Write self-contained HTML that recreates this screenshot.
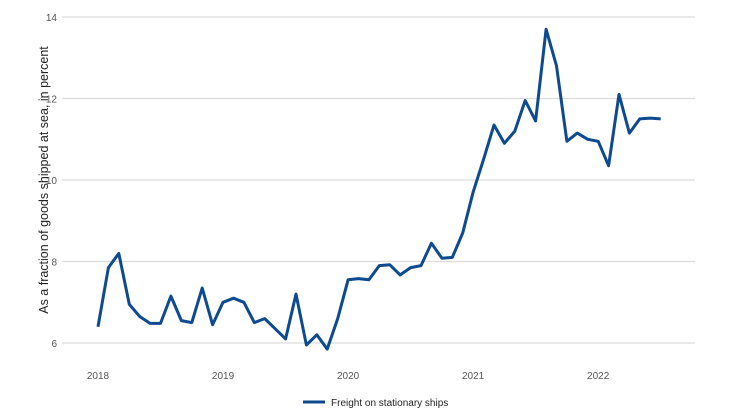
<!DOCTYPE html>
<html><head><meta charset="utf-8"><style>
body{margin:0;background:#fff;font-family:"Liberation Sans",sans-serif}
svg{display:block}
</style></head><body>
<svg width="735" height="420" id="chart">
<g id="grid"></g>
<g id="yticks"></g>
<g id="xticks"></g>
<text transform="translate(48,180) rotate(-90)" text-anchor="middle" font-size="12.5" fill="#222">As a fraction of goods shipped at sea, in percent</text>
<path id="line" fill="none" stroke="#0d4a8f" stroke-width="3" stroke-linejoin="round"/>
<g>
<line x1="303" y1="402" x2="325" y2="402" stroke="#0d4a8f" stroke-width="3"/>
<text x="331" y="406" font-size="10" fill="#222">Freight on stationary ships</text>
</g>
</svg>
<script>
const yTicks=[6,8,10,12,14];
const xTickLabels=["2018","2019","2020","2021","2022"];
const values=[6.4,7.85,8.2,6.95,6.65,6.48,6.48,7.15,6.55,6.5,7.35,6.45,
7.0,7.1,7.0,6.5,6.6,6.35,6.1,7.2,5.95,6.2,5.85,6.6,
7.55,7.58,7.55,7.9,7.92,7.67,7.85,7.9,8.45,8.08,8.1,8.7,
9.7,10.5,11.35,10.9,11.2,11.95,11.45,13.7,12.8,10.95,11.15,11.0,
10.95,10.35,12.1,11.15,11.5,11.52,11.5];
const ns="http://www.w3.org/2000/svg";
const yS=v=>343-(v-6)*40.75;
const xS=m=>98+m*10.42;
const grid=document.getElementById('grid'),yt=document.getElementById('yticks'),xt=document.getElementById('xticks');
yTicks.forEach(t=>{
const l=document.createElementNS(ns,'line');


l.setAttribute('x1',62);l.setAttribute('x2',695);l.setAttribute('y1',yS(t));l.setAttribute('y2',yS(t));
l.setAttribute('stroke','#dcdcdc');l.setAttribute('stroke-width','1.2');grid.appendChild(l);
const tx=document.createElementNS(ns,'text');


tx.setAttribute('x',57);tx.setAttribute('y',yS(t)+4);tx.setAttribute('text-anchor','end');
tx.setAttribute('font-size','10');tx.setAttribute('fill','#555');tx.textContent=t;yt.appendChild(tx);
});
xTickLabels.forEach((s,i)=>{
const tx=document.createElementNS(ns,'text');


tx.setAttribute('x',xS(i*12));tx.setAttribute('y',379);tx.setAttribute('text-anchor','middle');
tx.setAttribute('font-size','10');tx.setAttribute('fill','#555');tx.textContent=s;xt.appendChild(tx);
});
document.getElementById('line').setAttribute('d',values.map((v,i)=>(i?'L':'M')+xS(i).toFixed(1)+','+yS(v).toFixed(1)).join(''));
</script>
</body></html>
